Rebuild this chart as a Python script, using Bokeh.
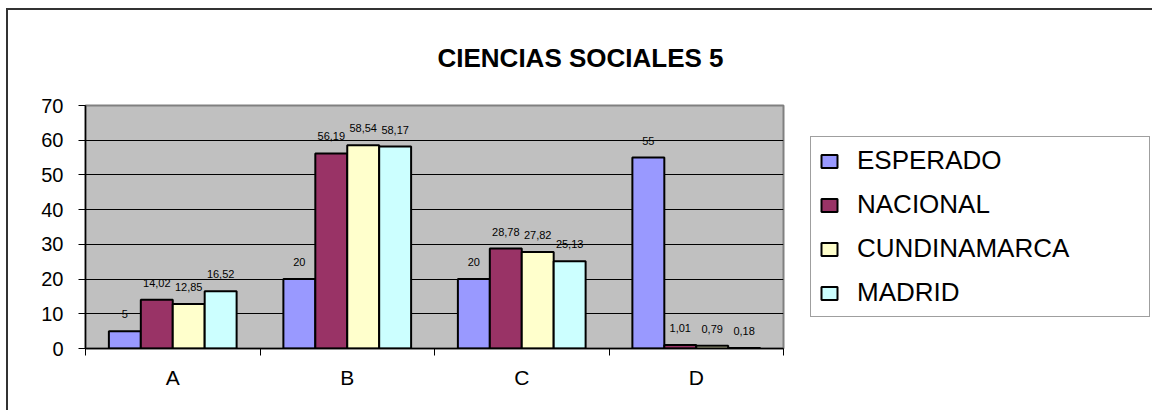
from bokeh.plotting import figure
from bokeh.models import (Range1d, FixedTicker, Legend, LegendItem, ColumnDataSource,
                          LabelSet)
from bokeh.core.properties import value
from bokeh.transform import dodge
from bokeh.embed import file_html
from bokeh.resources import INLINE

# ---- data ----
title_text = "CIENCIAS SOCIALES 5"
categories = ["A", "B", "C", "D"]
series = ["ESPERADO", "NACIONAL", "CUNDINAMARCA", "MADRID"]
esperado = [5, 20, 20, 55]
nacional = [14.02, 56.19, 28.78, 1.01]
cundinamarca = [12.85, 58.54, 27.82, 0.79]
madrid = [16.52, 58.17, 25.13, 0.18]
y_ticks = [0, 10, 20, 30, 40, 50, 60, 70]

colors = ["#9999FF", "#993366", "#FFFFCC", "#CCFFFF"]
FONT = "Liberation Sans"


def fmt(v):
    if float(v).is_integer():
        return str(int(v))
    return f"{v:.2f}".replace(".", ",")


values = [esperado, nacional, cundinamarca, madrid]
n = len(categories)
data = {"cat": categories, "xi": list(range(n))}
for name, vals in zip(series, values):
    data[name] = vals
    data[name + "_lbl"] = [fmt(v) for v in vals]
source = ColumnDataSource(data)

p = figure(x_range=Range1d(-0.5, n - 0.5), y_range=Range1d(0, 70),
           frame_width=698, frame_height=243,
           min_border_left=77, min_border_right=358,
           min_border_top=95, min_border_bottom=62,
           output_backend="svg", toolbar_location=None, title=title_text)

p.styles = {"margin-left": "6px", "margin-top": "8px",
            "border-left": "2px solid #333333", "border-top": "2px solid #333333"}

p.title.text_font = FONT
p.title.text_font_size = "26px"
p.title.text_font_style = "bold"
p.title.text_color = "black"
p.title.align = "left"
p.title.offset = 352
p.title.vertical_align = "top"
p.title.standoff = 62

p.background_fill_color = "#C0C0C0"
p.border_fill_color = "white"
p.outline_line_color = "#808080"
p.outline_line_width = 2

# y axis
p.yaxis.ticker = FixedTicker(ticks=y_ticks)
p.yaxis.major_label_text_font_size = "20px"
p.yaxis.major_label_text_font = FONT
p.yaxis.major_label_text_color = "black"
p.yaxis.major_tick_out = 7
p.yaxis.major_tick_in = 0
p.yaxis.minor_tick_out = 0
p.yaxis.minor_tick_in = 0
p.yaxis.major_label_standoff = 15
p.yaxis.axis_line_color = "black"
p.yaxis.axis_line_width = 1.5
p.yaxis.major_tick_line_color = "black"

p.ygrid.ticker = FixedTicker(ticks=y_ticks)
p.ygrid.grid_line_color = "black"
p.ygrid.grid_line_width = 1
p.xgrid.grid_line_color = None

# x axis: labels at category centres, ticks on category boundaries
p.xaxis.ticker = FixedTicker(ticks=list(range(n)),
                             minor_ticks=[i - 0.5 for i in range(n + 1)])
p.xaxis.major_label_overrides = {i: c for i, c in enumerate(categories)}
p.xaxis.major_tick_out = 0
p.xaxis.major_tick_in = 0
p.xaxis.minor_tick_out = 7
p.xaxis.minor_tick_in = 0
p.xaxis.major_label_standoff = 10
p.xaxis.major_label_text_font_size = "21px"
p.xaxis.major_label_text_font = FONT
p.xaxis.major_label_text_color = "black"
p.xaxis.axis_line_color = "black"
p.xaxis.axis_line_width = 1.5
p.xaxis.minor_tick_line_color = "black"

# bars
bw = 0.183
offsets = [-1.5 * bw, -0.5 * bw, 0.5 * bw, 1.5 * bw]
items = []
for name, col, off in zip(series, colors, offsets):
    r = p.vbar(x=dodge("xi", off), top=name, width=bw,
               source=source, fill_color=col, line_color="black", line_width=2)
    items.append(LegendItem(label=name, renderers=[r]))
    lbl = LabelSet(x=dodge("xi", off), y=name, text=name + "_lbl",
                   source=source, text_align="center", text_baseline="alphabetic",
                   y_offset=13, text_font=value(FONT), text_font_size=value("11px"),
                   text_color="black")
    p.add_layout(lbl)

legend = Legend(items=items, location=(27, 31), margin=0,
                padding=8, spacing=13, label_height=28, label_width=284,
                glyph_width=20, glyph_height=16, label_standoff=18,
                label_text_font_size="26px", label_text_font=FONT,
                label_text_color="black",
                border_line_color="#404040", border_line_width=1,
                background_fill_color="white", background_fill_alpha=1)
p.add_layout(legend, "right")

open("out.html", "w").write(file_html(p, INLINE))
